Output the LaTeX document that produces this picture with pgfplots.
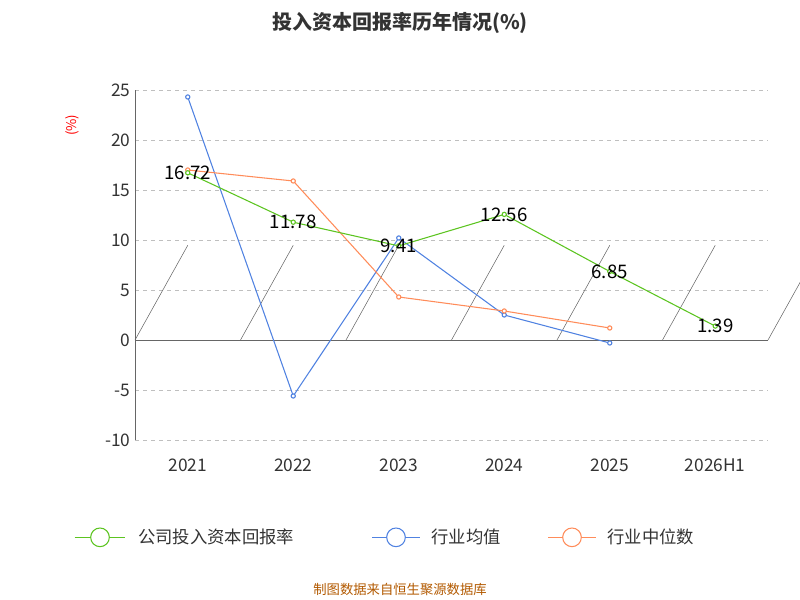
\documentclass[border=0pt]{standalone}
\usepackage{pgfplots}
\pgfplotsset{compat=1.18}
\usepackage{fontspec}
\setmainfont{Noto Sans CJK SC}
\definecolor{cg}{RGB}{92,196,32}
\definecolor{cb}{RGB}{80,130,225}
\definecolor{co}{RGB}{255,140,90}
\begin{document}
\begin{tikzpicture}
\useasboundingbox (0,0) rectangle (600pt,450pt);
\begin{axis}[at={(101.25pt,120pt)},anchor=south west,scale only axis,
 width=474.75pt,height=262.5pt,xmin=-0.5,xmax=5.5,ymin=-10,ymax=25,
 ytick={-10,-5,...,25},xtick=\empty,
 axis x line=none, axis y line*=left, y axis line style={gray!80!black},
 ymajorgrids,grid style={dashed,gray!50},major tick length=0pt,
 tick label style={font=\fontsize{13}{13}\selectfont,text=black!80},
 /pgf/number format/assume math mode=true,clip=false]
\draw[gray!80!black] (axis cs:-0.5,0)--(axis cs:5.5,0);
\draw[gray!80!black] (axis cs:-0.5,0)--++(0,-4pt);
\draw[gray!80!black] (axis cs:0.5,0)--++(0,-4pt);
\draw[gray!80!black] (axis cs:1.5,0)--++(0,-4pt);
\draw[gray!80!black] (axis cs:2.5,0)--++(0,-4pt);
\draw[gray!80!black] (axis cs:3.5,0)--++(0,-4pt);
\draw[gray!80!black] (axis cs:4.5,0)--++(0,-4pt);
\draw[gray!80!black] (axis cs:5.5,0)--++(0,-4pt);
\node[font=\fontsize{13}{13}\selectfont,text=black!80] at (axis cs:0,-12.5) {2021};
\node[font=\fontsize{13}{13}\selectfont,text=black!80] at (axis cs:1,-12.5) {2022};
\node[font=\fontsize{13}{13}\selectfont,text=black!80] at (axis cs:2,-12.5) {2023};
\node[font=\fontsize{13}{13}\selectfont,text=black!80] at (axis cs:3,-12.5) {2024};
\node[font=\fontsize{13}{13}\selectfont,text=black!80] at (axis cs:4,-12.5) {2025};
\node[font=\fontsize{13}{13}\selectfont,text=black!80] at (axis cs:5,-12.5) {2026H1};
\addplot[cb,thick,mark=*,mark options={fill=white,scale=0.8}] coordinates {(0,24.3)(1,-5.6)(2,10.2)(3,2.5)(4,-0.3)};
\addplot[co,thick,mark=*,mark options={fill=white,scale=0.8}] coordinates {(0,17.0)(1,15.9)(2,4.3)(3,2.9)(4,1.2)};
\addplot[cg,thick,mark=*,mark options={fill=white,scale=0.8},
 nodes near coords,point meta=explicit symbolic,
 every node near coord/.style={font=\fontsize{14}{14}\selectfont,text=black,anchor=center}]
 coordinates {(0,16.72)[16.72](1,11.78)[11.78](2,9.41)[9.41](3,12.56)[12.56](4,6.85)[6.85](5,1.39)[1.39]};
\end{axis}
\node[rotate=90,text=red,font=\fontsize{10}{10}\selectfont] at (54pt,356pt) {(\%)};
\node[font=\bfseries\fontsize{15}{15}\selectfont,text=black!80] at (300pt,433pt) {投入资本回报率历年情况(\%)};
\begin{scope}[font=\fontsize{13}{13}\selectfont,text=black!80]
\draw[cg,thick] (56pt,47pt)--(94pt,47pt); \draw[cg,thick,fill=white] (75pt,47pt) circle (7pt);
\node[anchor=west] at (100pt,47pt) {公司投入资本回报率};
\draw[cb,thick] (279pt,47pt)--(315pt,47pt); \draw[cb,thick,fill=white] (297pt,47pt) circle (7pt);
\node[anchor=west] at (320pt,47pt) {行业均值};
\draw[co,thick] (411pt,47pt)--(447pt,47pt); \draw[co,thick,fill=white] (429pt,47pt) circle (7pt);
\node[anchor=west] at (452pt,47pt) {行业中位数};
\end{scope}
\node[text=orange!70!black,font=\fontsize{10}{10}\selectfont] at (300pt,8pt) {制图数据来自恒生聚源数据库};
\end{tikzpicture}
\end{document}
